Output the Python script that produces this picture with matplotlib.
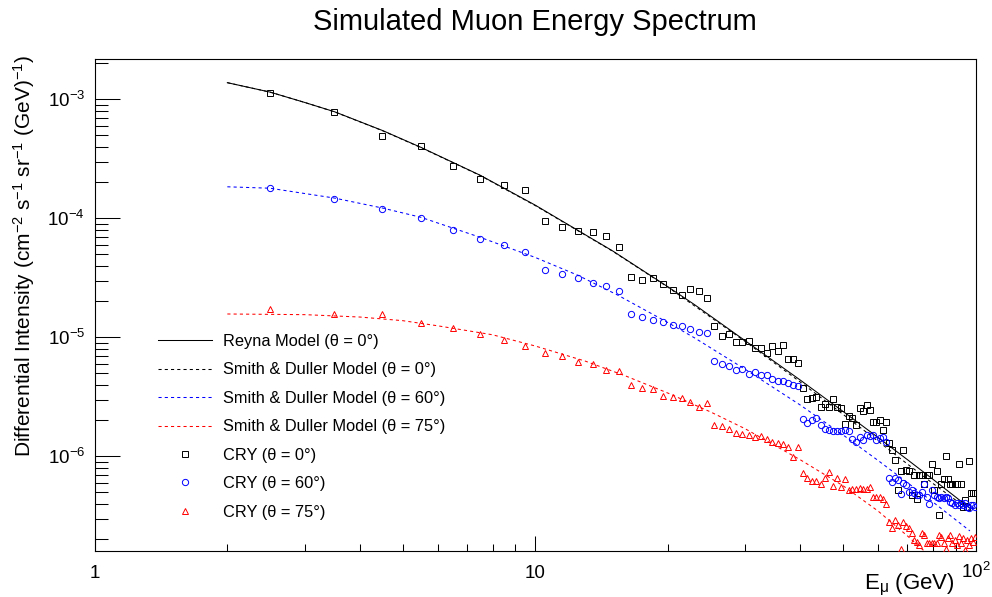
import numpy as np
import matplotlib
matplotlib.use('Agg')
import matplotlib.pyplot as plt
from matplotlib.ticker import LogLocator, NullFormatter, FixedLocator, FixedFormatter

plt.rcParams['font.family'] = ['Liberation Sans', 'DejaVu Sans']
plt.rcParams['mathtext.fontset'] = 'custom'
plt.rcParams['mathtext.rm'] = 'Liberation Sans'
plt.rcParams['mathtext.it'] = 'Liberation Sans:italic'
plt.rcParams['mathtext.default'] = 'regular'

# model curves
reyna_energy = [2, 2.5, 3, 3.5, 4.5, 5.5, 7.5, 10, 15, 20, 23, 30, 40, 50, 60, 70, 80, 97]
reyna_0 = [1.38e-3, 1.15e-3, 9.4e-4, 7.87e-4, 5.47e-4, 3.95e-4, 2.30e-4, 1.29e-4, 5.31e-5,
           2.66e-5, 1.88e-5, 9.33e-6, 4.36e-6, 2.38e-6, 1.44e-6, 9.36e-7, 6.40e-7, 3.66e-7]

smith0_energy = [2, 2.5, 3, 3.5, 4.5, 5.5, 7.5, 10, 15, 20, 30, 40, 50, 60, 70, 80, 97]
smith_0 = [1.38e-3, 1.15e-3, 9.4e-4, 7.85e-4, 5.45e-4, 3.93e-4, 2.29e-4, 1.28e-4, 5.28e-5,
           2.64e-5, 9.2e-6, 4.2e-6, 2.25e-6, 1.34e-6, 8.6e-7, 5.9e-7, 3.5e-7]

smith60_energy = [2, 2.5, 3.5, 4.5, 5.5, 7.5, 10, 12.5, 15.4, 20, 23, 30, 40, 50, 60, 70, 80, 97]
smith_60 = [1.84e-4, 1.79e-4, 1.48e-4, 1.22e-4, 1.02e-4, 6.92e-5, 4.69e-5, 3.32e-5, 2.26e-5,
            1.33e-5, 9.89e-6, 5.37e-6, 2.69e-6, 1.51e-6, 9.23e-7, 6.0e-7, 4.12e-7, 2.36e-7]

smith75_energy = [2, 3, 4, 5, 6, 8, 10, 13, 16, 20, 25, 30, 40, 50, 60, 70, 75, 80, 85]
smith_75 = [1.57e-5, 1.55e-5, 1.48e-5, 1.38e-5, 1.25e-5, 1.05e-5, 8.45e-6, 6.3e-6, 4.75e-6,
            3.40e-6, 2.36e-6, 1.70e-6, 9.33e-7, 5.65e-7, 3.47e-7, 2.14e-7, 1.70e-7, 1.38e-7, 1.12e-7]

# CRY histograms, 1 GeV bins from 2 to 100 GeV
bin_lo, bin_hi, bin_width = 2, 100, 1
cry_energy = np.arange(bin_lo + bin_width / 2, bin_hi, bin_width)

cry_0 = [1.13e-3, 7.87e-4, 4.94e-4, 4.08e-4, 2.75e-4, 2.15e-4, 1.90e-4, 1.73e-4,
         9.49e-5, 8.45e-5, 7.82e-5, 7.63e-5, 7.14e-5, 5.77e-5, 3.20e-5, 3.05e-5, 3.15e-5, 2.82e-5,
         2.51e-5, 2.28e-5, 2.55e-5, 2.46e-5, 2.15e-5, 1.25e-5, 1.03e-5, 1.06e-5, 9.18e-6, 9.13e-6,
         9.31e-6, 8.13e-6, 8.13e-6, 7.42e-6, 8.50e-6, 7.63e-6, 8.67e-6, 6.53e-6, 6.61e-6, 6.11e-6,
         3.73e-6, 3.01e-6, 3.09e-6, 3.13e-6, 2.61e-6, 2.75e-6, 2.61e-6, 3.05e-6, 2.61e-6, 2.55e-6,
         1.86e-6, 2.19e-6, 2.09e-6, 1.84e-6, 2.53e-6, 2.42e-6, 2.68e-6, 2.46e-6, 1.94e-6, 1.94e-6,
         2.01e-6, 1.67e-6, 1.94e-6, 1.29e-6, 1.14e-6, 9.31e-7, 5.21e-7, 7.57e-7, 1.13e-6, 7.67e-7,
         7.57e-7, 4.73e-7, 6.96e-7, 4.38e-7, 6.96e-7, 6.96e-7, 5.85e-7, 6.96e-7, 6.96e-7, 8.57e-7,
         5.21e-7, 7.57e-7, 3.21e-7, 5.85e-7, 6.45e-7, 1.01e-6, 6.45e-7, 5.85e-7, 5.85e-7, 5.85e-7,
         5.85e-7, 8.57e-7, 5.85e-7, 3.77e-7, 4.29e-7, 3.73e-7, 9.13e-7, 4.89e-7, 4.89e-7, 4.89e-7]

cry_60 = [1.81e-4, 1.46e-4, 1.20e-4, 1.00e-4, 7.93e-5, 6.70e-5, 5.97e-5, 5.24e-5,
          3.68e-5, 3.40e-5, 3.17e-5, 2.86e-5, 2.70e-5, 2.44e-5, 1.58e-5, 1.49e-5, 1.40e-5, 1.35e-5,
          1.26e-5, 1.24e-5, 1.18e-5, 1.11e-5, 1.09e-5, 6.36e-6, 5.93e-6, 5.74e-6, 5.31e-6, 5.45e-6,
          4.91e-6, 5.11e-6, 4.79e-6, 4.82e-6, 4.49e-6, 4.32e-6, 4.27e-6, 4.15e-6, 4.00e-6, 3.90e-6,
          2.05e-6, 1.92e-6, 2.02e-6, 2.10e-6, 1.82e-6, 1.71e-6, 1.66e-6, 1.64e-6, 1.62e-6, 1.64e-6,
          1.66e-6, 1.63e-6, 1.39e-6, 1.33e-6, 1.46e-6, 1.37e-6, 1.51e-6, 1.48e-6, 1.51e-6, 1.37e-6,
          1.42e-6, 1.46e-6, 1.33e-6, 6.57e-7, 6.12e-7, 6.53e-7, 6.32e-7, 4.82e-7, 5.93e-7, 5.74e-7,
          5.04e-7, 5.21e-7, 4.89e-7, 4.73e-7, 4.73e-7, 5.04e-7, 5.85e-7, 4.58e-7, 3.97e-7, 5.21e-7,
          4.73e-7, 4.58e-7, 4.49e-7, 4.58e-7, 4.44e-7, 4.58e-7, 4.44e-7, 4.15e-7, 4.03e-7, 3.90e-7,
          4.03e-7, 3.90e-7, 4.03e-7, 3.90e-7, 4.03e-7, 3.77e-7, 3.68e-7, 3.90e-7, 3.90e-7, 3.77e-7]

cry_75 = [1.73e-5, 1.57e-5, 1.57e-5, 1.31e-5, 1.20e-5, 1.07e-5, 9.49e-6, 8.45e-6,
          7.34e-6, 7.00e-6, 6.16e-6, 5.97e-6, 5.31e-6, 5.21e-6, 3.97e-6, 3.73e-6, 3.68e-6, 3.23e-6,
          3.17e-6, 3.09e-6, 2.88e-6, 2.61e-6, 2.82e-6, 1.83e-6, 1.80e-6, 1.69e-6, 1.58e-6, 1.53e-6,
          1.50e-6, 1.46e-6, 1.48e-6, 1.39e-6, 1.31e-6, 1.29e-6, 1.26e-6, 1.20e-6, 9.92e-7, 1.20e-6,
          7.28e-7, 6.61e-7, 6.24e-7, 6.24e-7, 5.82e-7, 6.61e-7, 7.34e-7, 5.63e-7, 6.57e-7, 5.49e-7,
          6.45e-7, 5.21e-7, 5.28e-7, 5.34e-7, 5.42e-7, 5.31e-7, 5.34e-7, 5.49e-7, 4.58e-7, 4.55e-7,
          4.52e-7, 4.35e-7, 3.95e-7, 2.82e-7, 2.48e-7, 2.92e-7, 2.65e-7, 1.66e-7, 2.82e-7, 2.61e-7,
          2.48e-7, 2.25e-7, 1.98e-7, 1.92e-7, 1.80e-7, 2.25e-7, 2.18e-7, 1.88e-7, 1.86e-7, 1.88e-7,
          1.86e-7, 1.88e-7, 2.18e-7, 2.11e-7, 1.86e-7, 1.65e-7, 2.05e-7, 2.18e-7, 1.86e-7, 1.98e-7,
          1.80e-7, 2.14e-7, 1.87e-7, 2.05e-7, 1.64e-7, 1.98e-7, 1.80e-7, 2.06e-7, 1.90e-7, 2.11e-7]

fig = plt.figure(figsize=(9.92, 5.97), dpi=100)
ax = fig.add_axes([0.0955, 0.0776, 0.8881, 0.8231])

dash = (0, (3, 3))
l_reyna, = ax.plot(reyna_energy, reyna_0, color='black', lw=0.75, label='Reyna Model (θ = 0°)')
l_s0, = ax.plot(smith0_energy, smith_0, color='black', lw=0.75, ls=dash,
                label='Smith & Duller Model (θ = 0°)')
l_s60, = ax.plot(smith60_energy, smith_60, color='blue', lw=0.75, ls=dash,
                 label='Smith & Duller Model (θ = 60°)')
l_s75, = ax.plot(smith75_energy, smith_75, color='red', lw=0.75, ls=dash,
                 label='Smith & Duller Model (θ = 75°)')

m_0, = ax.plot(cry_energy, cry_0, ls='none', marker='s', ms=4, mfc='none', mec='black',
               mew=0.7, label='CRY (θ = 0°)', zorder=3)
m_60, = ax.plot(cry_energy, cry_60, ls='none', marker='o', ms=4.5, mfc='none', mec='blue',
                mew=0.7, label='CRY (θ = 60°)', zorder=3)
m_75, = ax.plot(cry_energy, cry_75, ls='none', marker='^', ms=4.5, mfc='none', mec='red',
                mew=0.7, label='CRY (θ = 75°)', zorder=3)

ax.set_xscale('log')
ax.set_yscale('log')
ax.set_xlim(1, 100)
ax.set_ylim(1.61e-7, 2.17e-3)

for s in ax.spines.values():
    s.set_linewidth(0.8)

ax.xaxis.set_major_locator(FixedLocator([1, 10, 100]))
ax.xaxis.set_major_formatter(FixedFormatter(['1', '10', r'$10^{2}$']))
ax.xaxis.set_minor_locator(LogLocator(base=10, subs=np.arange(2, 10)))
ax.xaxis.set_minor_formatter(NullFormatter())
ax.yaxis.set_major_locator(LogLocator(base=10, numticks=20))
ax.yaxis.set_minor_locator(LogLocator(base=10, subs=np.arange(2, 10), numticks=20))
ax.yaxis.set_minor_formatter(NullFormatter())

ax.tick_params(axis='y', which='major', direction='in', length=18, width=0.75, pad=7,
               labelsize=13.5)
ax.tick_params(axis='y', which='minor', direction='in', length=9, width=0.75)
ax.tick_params(axis='x', which='major', direction='in', length=10.5, width=0.75, pad=19.5,
               labelsize=13.5)
ax.tick_params(axis='x', which='minor', direction='in', length=5.3, width=0.75)
for lab in ax.get_xticklabels():
    lab.set_verticalalignment('baseline')

fig.text(0.539, 1 - 30 / 597, 'Simulated Muon Energy Spectrum', ha='center', va='baseline',
         fontsize=21)
fig.text(24 / 992, 0.571, r'Differential Intensity (cm$^{-2}$ s$^{-1}$ sr$^{-1}$ (GeV)$^{-1}$)',
         rotation=90, ha='center', va='center', fontsize=15)
fig.text(955 / 992, 1 - 589 / 597, r'E$_{μ}$ (GeV)', ha='right', va='baseline', fontsize=16)

handles = [l_reyna, l_s0, l_s60, l_s75, m_0, m_60, m_75]
ax.legend(handles=handles, loc='upper left', bbox_to_anchor=(158 / 992, 1 - 334 / 597),
          bbox_transform=fig.transFigure, frameon=False, fontsize=11.8, handlelength=3.3,
          handletextpad=0.67, labelspacing=0.82, borderpad=0, borderaxespad=0)

fig.savefig('out.png', dpi=100)
